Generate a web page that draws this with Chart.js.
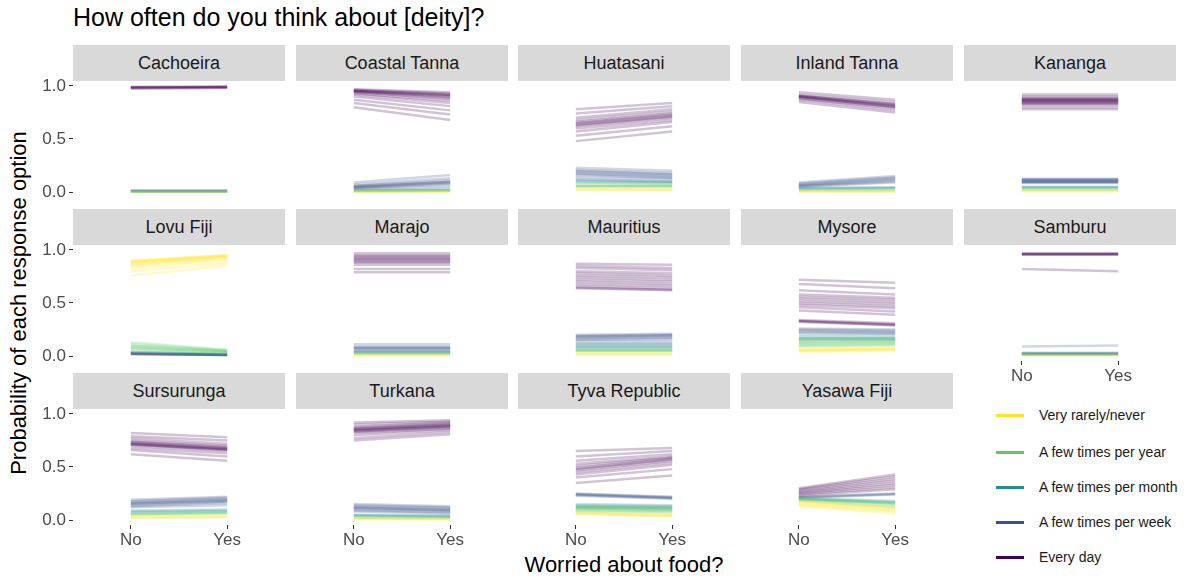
<!DOCTYPE html>
<html>
<head>
<meta charset="utf-8">
<script src="https://cdn.jsdelivr.net/npm/chart.js@4.4.1/dist/chart.umd.min.js"></script>
<style>
  html, body { margin: 0; padding: 0; background: #ffffff; }
  body { width: 1192px; height: 580px; position: relative; overflow: hidden; font-family: "Liberation Sans", Arial, sans-serif; }
  .strip { position: absolute; background: #d9d9d9; color: #1a1a1a; font-size: 18px; text-align: center; display: flex; align-items: center; justify-content: center; }
  .title { position: absolute; left: 73px; top: 3px; font-size: 25px; color: #000; white-space: nowrap; }
  .xtitle { position: absolute; left: 0; width: 1248px; top: 552px; font-size: 22px; color: #000; text-align: center; }
  .ytitle { position: absolute; font-size: 22px; color: #000; white-space: nowrap; transform: rotate(-90deg); transform-origin: center center; }
  .leg-row { position: absolute; left: 996px; height: 20px; display: flex; align-items: center; }
  .leg-key { width: 28px; height: 3px; margin-right: 15px; }
  .leg-text { font-size: 14px; color: #1a1a1a; white-space: nowrap; }
</style>
</head>
<body>
<div class="title">How often do you think about [deity]?</div>
<div class="xtitle">Worried about food?</div>
<div class="ytitle" id="ytitle">Probability of each response option</div>
<script>
// ---------- data ----------
const sites = ["Cachoeira","Coastal Tanna","Huatasani","Inland Tanna","Kananga",
  "Lovu Fiji","Marajo","Mauritius","Mysore","Samburu",
  "Sursurunga","Turkana","Tyva Republic","Yasawa Fiji"];
const xLabels = ["No","Yes"];
const xTickValues = [1, 2];
const yTickValues = [0, 0.5, 1];
const categories = ["Very rarely/never","A few times per year","A few times per month","A few times per week","Every day"];
const catColors = ["#FDE725","#5DC863","#21908C","#3B528B","#440154"];

// posterior draws (No -> Yes), one inner array per site
const rareNo = [
 [0.001],[0.003,0.002],[0.03,0.025,0.02],[0.006,0.004],[0.01,0.008],
 [0.90,0.895,0.89,0.885,0.88,0.87,0.86,0.85,0.83,0.80,0.76],[0.008,0.006],[0.025,0.02,0.015],
 [0.07,0.06,0.055,0.05,0.04],[0.004],[0.03,0.025,0.02],[0.01,0.008],
 [0.07,0.065,0.06,0.055],[0.18,0.17,0.16,0.15,0.14,0.13]];
const rareYes = [
 [0.001],[0.004,0.003],[0.028,0.022,0.018],[0.006,0.004],[0.01,0.008],
 [0.95,0.95,0.945,0.94,0.935,0.93,0.92,0.91,0.89,0.87,0.85],[0.008,0.006],[0.025,0.02,0.015],
 [0.08,0.07,0.065,0.06,0.05],[0.004],[0.035,0.03,0.025],[0.008,0.006],
 [0.05,0.045,0.04,0.035],[0.12,0.11,0.10,0.09,0.08,0.06]];
const yearNo = [
 [0.003,0.002],[0.01,0.008],[0.07,0.06,0.055,0.05],[0.02,0.015],[0.025,0.02],
 [0.13,0.11,0.10,0.09,0.08,0.07,0.06],[0.02,0.018],[0.06,0.055,0.05,0.045],
 [0.16,0.14,0.13,0.12,0.11,0.10,0.09],[0.012,0.01],[0.06,0.055,0.05],[0.025,0.02],
 [0.13,0.12,0.11,0.10,0.09,0.08],[0.21,0.20,0.19,0.18]];
const yearYes = [
 [0.003,0.002],[0.015,0.01],[0.065,0.06,0.055,0.05],[0.02,0.015],[0.025,0.02],
 [0.06,0.055,0.05,0.045,0.04,0.035,0.03],[0.02,0.018],[0.06,0.055,0.05,0.045],
 [0.17,0.15,0.14,0.13,0.12,0.11,0.10],[0.012,0.01],[0.07,0.065,0.06],[0.02,0.015],
 [0.12,0.11,0.10,0.09,0.08,0.07],[0.16,0.15,0.14,0.12]];
const monthNo = [
 [0.005,0.004],[0.02,0.015,0.012],[0.11,0.10,0.09],[0.04,0.035,0.03],[0.05,0.045,0.04],
 [0.04,0.035,0.03],[0.04,0.035,0.03],[0.11,0.10,0.09,0.08,0.07],
 [0.20,0.18,0.17,0.16,0.15],[0.02,0.018],[0.09,0.08,0.07],[0.05,0.045,0.04],
 [0.15,0.14,0.13,0.12,0.11],[0.21,0.20,0.19]];
const monthYes = [
 [0.005,0.004],[0.03,0.02,0.015],[0.10,0.09,0.08],[0.045,0.04,0.035],[0.05,0.045,0.04],
 [0.02,0.018,0.015],[0.04,0.035,0.03],[0.11,0.10,0.09,0.08,0.07],
 [0.20,0.18,0.17,0.16,0.15],[0.02,0.018],[0.10,0.09,0.08],[0.04,0.035,0.03],
 [0.14,0.13,0.12,0.11,0.10],[0.18,0.17,0.16]];
const weekNo = [
 [0.015,0.012,0.01],[0.09,0.07,0.06,0.055,0.05,0.045,0.04,0.035,0.03],
 [0.23,0.21,0.20,0.19,0.18,0.17,0.16,0.14,0.12],[0.09,0.08,0.07,0.065,0.06,0.055,0.05],
 [0.125,0.12,0.115,0.11,0.105,0.10,0.10,0.095,0.09,0.085],[0.02,0.018],[0.11,0.09,0.08,0.075,0.07,0.06,0.05],
 [0.20,0.19,0.185,0.18,0.17,0.16,0.15,0.14,0.12],[0.26,0.25,0.24,0.23,0.22],[0.03,0.025,0.02,0.09],
 [0.19,0.18,0.17,0.16,0.155,0.15,0.14,0.13,0.12],[0.15,0.14,0.13,0.12,0.115,0.11,0.10,0.09,0.08],
 [0.25,0.245,0.24,0.235,0.23],[0.22,0.215,0.21]];
const weekYes = [
 [0.014,0.012,0.01],[0.16,0.13,0.11,0.10,0.095,0.09,0.08,0.07,0.05],
 [0.20,0.18,0.17,0.16,0.15,0.14,0.13,0.12,0.10],[0.15,0.14,0.13,0.12,0.11,0.10,0.09],
 [0.125,0.12,0.115,0.11,0.105,0.10,0.10,0.095,0.09,0.085],[0.01,0.009],[0.11,0.09,0.08,0.075,0.07,0.06,0.05],
 [0.21,0.20,0.195,0.19,0.18,0.17,0.16,0.14,0.12],[0.25,0.24,0.23,0.22,0.21],[0.03,0.025,0.02,0.10],
 [0.22,0.21,0.20,0.19,0.185,0.18,0.17,0.16,0.14],[0.13,0.12,0.11,0.10,0.095,0.09,0.08,0.07,0.06],
 [0.22,0.215,0.21,0.205,0.20],[0.25,0.245,0.24]];
const dayNo = [
 [0.985,0.99,0.98,0.985,0.99,0.975],
 [0.97,0.965,0.96,0.955,0.95,0.95,0.945,0.94,0.93,0.92,0.90,0.87,0.84,0.80],
 [0.78,0.74,0.70,0.68,0.66,0.65,0.64,0.63,0.62,0.60,0.57,0.53,0.48],
 [0.94,0.92,0.91,0.905,0.90,0.90,0.895,0.89,0.88,0.87,0.85],
 [0.92,0.90,0.89,0.88,0.875,0.87,0.865,0.86,0.855,0.85,0.845,0.84,0.83,0.82,0.80,0.78],
 [0.025,0.022,0.02],
 [0.97,0.95,0.94,0.93,0.92,0.91,0.90,0.89,0.88,0.86,0.82,0.79],
 [0.87,0.85,0.83,0.80,0.78,0.76,0.74,0.72,0.70,0.68,0.66,0.645,0.64],
 [0.72,0.68,0.62,0.58,0.56,0.54,0.52,0.50,0.48,0.46,0.43,0.34,0.33,0.33,0.32],
 [0.97,0.965,0.96,0.96,0.955,0.82],
 [0.82,0.79,0.77,0.75,0.74,0.73,0.725,0.72,0.715,0.71,0.70,0.68,0.66,0.62],
 [0.92,0.90,0.88,0.87,0.86,0.855,0.85,0.845,0.84,0.83,0.82,0.80,0.77,0.75],
 [0.65,0.60,0.56,0.53,0.51,0.49,0.48,0.47,0.45,0.43,0.40,0.35],
 [0.30,0.29,0.28,0.27,0.26,0.25,0.24,0.23]];
const dayYes = [
 [0.99,0.99,0.985,0.99,0.995,0.98],
 [0.94,0.93,0.92,0.915,0.91,0.90,0.89,0.88,0.86,0.84,0.81,0.77,0.73,0.68],
 [0.84,0.81,0.78,0.76,0.74,0.73,0.72,0.71,0.70,0.68,0.66,0.62,0.57],
 [0.87,0.85,0.83,0.825,0.82,0.81,0.805,0.80,0.79,0.77,0.75],
 [0.92,0.90,0.89,0.88,0.875,0.87,0.865,0.86,0.855,0.85,0.845,0.84,0.83,0.82,0.80,0.78],
 [0.012,0.01,0.009],
 [0.97,0.95,0.94,0.93,0.92,0.91,0.90,0.89,0.88,0.86,0.82,0.79],
 [0.86,0.83,0.81,0.78,0.76,0.74,0.72,0.70,0.68,0.66,0.64,0.625,0.62],
 [0.69,0.64,0.58,0.55,0.53,0.51,0.49,0.47,0.45,0.42,0.39,0.31,0.30,0.29,0.29],
 [0.97,0.965,0.96,0.96,0.955,0.80],
 [0.78,0.75,0.72,0.70,0.69,0.68,0.675,0.67,0.665,0.66,0.65,0.63,0.60,0.56],
 [0.94,0.93,0.92,0.91,0.90,0.895,0.89,0.885,0.88,0.87,0.86,0.85,0.83,0.81],
 [0.68,0.65,0.62,0.60,0.59,0.58,0.57,0.56,0.54,0.52,0.48,0.42],
 [0.43,0.41,0.39,0.37,0.35,0.33,0.31,0.29]];

const drawsNo = [rareNo, yearNo, monthNo, weekNo, dayNo];
const drawsYes = [rareYes, yearYes, monthYes, weekYes, dayYes];

// ---------- layout ----------
const colLeft = [73, 296, 518, 741, 964];
const stripTop = [45, 209, 373];
const STRIP_H = 36, PANEL_W = 212, PANEL_H = 116;
const YAX = 52, XAX = 34, PADT = 12;
const Y_MIN = -0.047, Y_MAX = 1.047;
const LINE_ALPHA = 0.24, LINE_W = 2.5;

function rgba(hex, a) {
  const r = parseInt(hex.slice(1,3),16), g = parseInt(hex.slice(3,5),16), b = parseInt(hex.slice(5,7),16);
  return `rgba(${r},${g},${b},${a})`;
}

const yt = document.getElementById('ytitle');
(function placeYTitle(){
  const w = yt.offsetWidth, h = yt.offsetHeight;
  yt.style.left = (19 - w/2) + 'px';
  yt.style.top = (303 - h/2) + 'px';
})();

function zeroPad(s) { s.paddingTop = 0; s.paddingBottom = 0; s.paddingLeft = 0; s.paddingRight = 0; }

sites.forEach((site, i) => {
  const row = Math.floor(i / 5), col = i % 5;
  const hasY = col === 0;
  const hasX = row === 2 || (row === 1 && col === 4);
  const pl = colLeft[col], st = stripTop[row];
  const padTop = hasY ? PADT : 0;

  const strip = document.createElement('div');
  strip.className = 'strip';
  strip.style.left = pl + 'px'; strip.style.top = st + 'px';
  strip.style.width = PANEL_W + 'px'; strip.style.height = STRIP_H + 'px';
  strip.textContent = site;
  document.body.appendChild(strip);

  const cv = document.createElement('canvas');
  const cw = PANEL_W + (hasY ? YAX : 0), ch = PANEL_H + padTop + (hasX ? XAX : 0);
  cv.width = cw; cv.height = ch;
  cv.style.position = 'absolute';
  cv.style.left = (pl - (hasY ? YAX : 0)) + 'px';
  cv.style.top = (st + STRIP_H - padTop) + 'px';
  cv.style.width = cw + 'px'; cv.style.height = ch + 'px';
  document.body.appendChild(cv);

  const datasets = [];
  categories.forEach((cat, k) => {
    const nos = drawsNo[k][i], yeses = drawsYes[k][i];
    nos.forEach((v, d) => {
      datasets.push({
        label: cat,
        data: [{x: xTickValues[0], y: v}, {x: xTickValues[1], y: yeses[d]}],
        borderColor: rgba(catColors[k], LINE_ALPHA),
        borderWidth: LINE_W,
        borderCapStyle: 'butt',
        pointRadius: 0,
        tension: 0,
        fill: false
      });
    });
  });

  new Chart(cv, {
    type: 'line',
    data: { datasets },
    options: {
      responsive: false,
      maintainAspectRatio: false,
      animation: false,
      devicePixelRatio: 1,
      layout: { padding: { top: padTop, left: 0, right: 0, bottom: 0 }, autoPadding: false },
      plugins: { legend: { display: false }, tooltip: { enabled: false }, title: { display: false } },
      events: [],
      scales: {
        x: {
          type: 'linear', min: 0.4, max: 2.6, display: hasX,
          afterFit: s => { s.height = hasX ? XAX : 0; zeroPad(s); },
          afterBuildTicks: s => { s.ticks = xTickValues.map(v => ({ value: v })); },
          ticks: { callback: v => xLabels[xTickValues.indexOf(v)] ?? '', color: '#4d4d4d',
                   font: { size: 17, family: '"Liberation Sans", Arial, sans-serif' }, padding: 1, maxRotation: 0, autoSkip: false },
          grid: { drawOnChartArea: false, drawTicks: true, tickLength: 4, color: '#333333', lineWidth: 1 },
          border: { display: false }
        },
        y: {
          type: 'linear', min: Y_MIN, max: Y_MAX, display: hasY, position: 'left',
          afterFit: s => { s.width = hasY ? YAX : 0; zeroPad(s); },
          afterBuildTicks: s => { s.ticks = yTickValues.map(v => ({ value: v })); },
          ticks: { callback: v => v.toFixed(1), color: '#4d4d4d',
                   font: { size: 17, family: '"Liberation Sans", Arial, sans-serif' }, padding: 3 },
          grid: { drawOnChartArea: false, drawTicks: true, tickLength: 4, color: '#333333', lineWidth: 1 },
          border: { display: false }
        }
      }
    }
  });
});

// legend (built from the category arrays)
const legendY = [415, 452, 487, 522, 557];
categories.forEach((cat, k) => {
  const row = document.createElement('div');
  row.className = 'leg-row';
  row.style.top = (legendY[k] - 10) + 'px';
  const key = document.createElement('div');
  key.className = 'leg-key';
  key.style.background = catColors[k];
  const t = document.createElement('div');
  t.className = 'leg-text';
  t.textContent = cat;
  row.appendChild(key); row.appendChild(t);
  document.body.appendChild(row);
});
</script>
</body>
</html>
